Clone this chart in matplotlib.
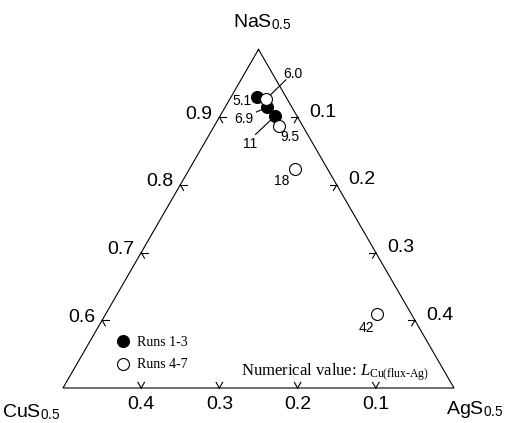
import numpy as np
import matplotlib
matplotlib.use('Agg')
import matplotlib.pyplot as plt

plt.rcParams['font.family'] = ['Liberation Sans', 'DejaVu Sans']
plt.rcParams['mathtext.fontset'] = 'custom'
plt.rcParams['mathtext.rm'] = 'Liberation Serif'
plt.rcParams['mathtext.it'] = 'Liberation Serif:italic'
plt.rcParams['mathtext.sf'] = 'Liberation Sans'

# compositions (mole fraction), L value as label
runs13_nas = [0.929, 0.915, 0.901]
runs13_ags = [0.034, 0.054, 0.070]
runs13_cus = [0.037, 0.031, 0.029]
runs13_lab = ['5.1', '6.9', '11']

runs47_nas = [0.927, 0.887, 0.824, 0.610]
runs47_ags = [0.046, 0.083, 0.135, 0.347]
runs47_cus = [0.027, 0.030, 0.041, 0.043]
runs47_lab = ['6.0', '9.5', '18', '42']

nas_ticks = [0.6, 0.7, 0.8, 0.9]
ags_ticks = [0.1, 0.2, 0.3, 0.4]
cus_ticks = [0.4, 0.3, 0.2, 0.1]

# label offsets in pixels (dx, dy) and optional leader line
lab_off = {'5.1': (-15, -4), '6.9': (-24, -12), '11': (-24, -28),
           '6.0': (27, 25), '9.5': (11, -11), '18': (-14, -12), '42': (-11, -14)}
leaders = {'6.0': ((1.5, 1), (20, 19)), '6.9': ((-11, -5), (0, 0)),
           '11': ((-19, -18), (0, 0))}

S3 = np.sqrt(3) / 2
PX = 782.0  # pixels per unit
PT = 0.72   # points per pixel at dpi 100


def tern(nas, ags, cus):
    tot = np.asarray(nas) + np.asarray(ags) + np.asarray(cus)
    n = np.asarray(nas) / tot
    a = np.asarray(ags) / tot
    return a + n / 2, n * S3


fig = plt.figure(figsize=(5.05, 4.23), dpi=100)
ax = fig.add_axes([0, 0, 1, 1])
ax.set_xlim(0.25 - 63 / PX, 0.25 + 442 / PX)
ax.set_ylim(0.5 * S3 - 35 / PX, 0.5 * S3 + 388 / PX)
ax.axis('off')

lw = 0.8
# frame
vx, vy = tern([1, 0.5, 0.5, 1], [0, 0, 0.5, 0], [0, 0.5, 0, 0])
ax.plot(vx, vy, color='k', lw=lw, solid_joinstyle='miter')

L = 6.5 / PX
for v in nas_ticks:
    x, y = tern(v, 0, 1 - v)
    ax.plot([x, x + L], [y, y], color='k', lw=lw)
    ax.plot([x, x + 0.5 * L], [y, y - S3 * L], color='k', lw=lw)
    ax.annotate('%.1f' % v, (x, y), xytext=(-7 * PT, 3 * PT), textcoords='offset points',
                ha='right', va='center', fontsize=14)
for v in ags_ticks:
    x, y = tern(1 - v, v, 0)
    ax.plot([x, x - L], [y, y], color='k', lw=lw)
    ax.plot([x, x - 0.5 * L], [y, y - S3 * L], color='k', lw=lw)
    ax.annotate('%.1f' % v, (x, y), xytext=(11.5 * PT, 5 * PT), textcoords='offset points',
                ha='left', va='center', fontsize=14)
for v in cus_ticks:
    x, y = tern(0.5, 0.5 - v, v)
    ax.plot([x, x - 0.5 * L], [y, y + S3 * L], color='k', lw=lw)
    ax.plot([x, x + 0.5 * L], [y, y + S3 * L], color='k', lw=lw)
    ax.annotate('%.1f' % v, (x, y), xytext=(0, -16 * PT), textcoords='offset points',
                ha='center', va='center', fontsize=14)

# corner labels (figure pixels)
fig.text(262 / 505, 1 - 27 / 423, r'NaS$_{\mathsf{0.5}}$', ha='center', va='baseline', fontsize=14)
fig.text(2 / 505, 1 - 417 / 423, r'CuS$_{\mathsf{0.5}}$', ha='left', va='baseline', fontsize=14)
fig.text(446 / 505, 1 - 414 / 423, r'AgS$_{\mathsf{0.5}}$', ha='left', va='baseline', fontsize=14)

# data
x13, y13 = tern(runs13_nas, runs13_ags, runs13_cus)
x47, y47 = tern(runs47_nas, runs47_ags, runs47_cus)
h1, = ax.plot(x13, y13, 'o', ms=8.6, mfc='k', mec='k', mew=0.8, ls='none', zorder=4)
h2, = ax.plot(x47, y47, 'o', ms=8.6, mfc='w', mec='k', mew=0.8, ls='none', zorder=5)

for xs, ys, labs in [(x13, y13, runs13_lab), (x47, y47, runs47_lab)]:
    for x, y, lab in zip(xs, ys, labs):
        dx, dy = lab_off[lab]
        ax.annotate(lab, (x, y), xytext=(dx * PT, dy * PT), textcoords='offset points',
                    ha='center', va='center', fontsize=10)
        if lab in leaders:
            (ax0, ay0), (ax1, ay1) = leaders[lab]
            ax.plot([x + ax0 / PX, x + ax1 / PX], [y + ay0 / PX, y + ay1 / PX],
                    color='k', lw=lw, zorder=3)

leg = ax.legend([h1, h2], ['Runs 1-3', 'Runs 4-7'], loc='upper left',
                bbox_to_anchor=(116.5 / 505, 1 - 336 / 423), frameon=False,
                borderpad=0, borderaxespad=0, handlelength=1.0, handletextpad=0.5,
                labelspacing=0.68, prop={'family': 'Liberation Serif', 'size': 10})

ax.text(241 / 505, 1 - 372 / 423,
        r'Numerical value: $L_{\mathrm{Cu(flux\text{-}Ag)}}$',
        family='Liberation Serif', fontsize=12, ha='left', va='center',
        transform=ax.transAxes)

fig.savefig('out.png', dpi=100)
